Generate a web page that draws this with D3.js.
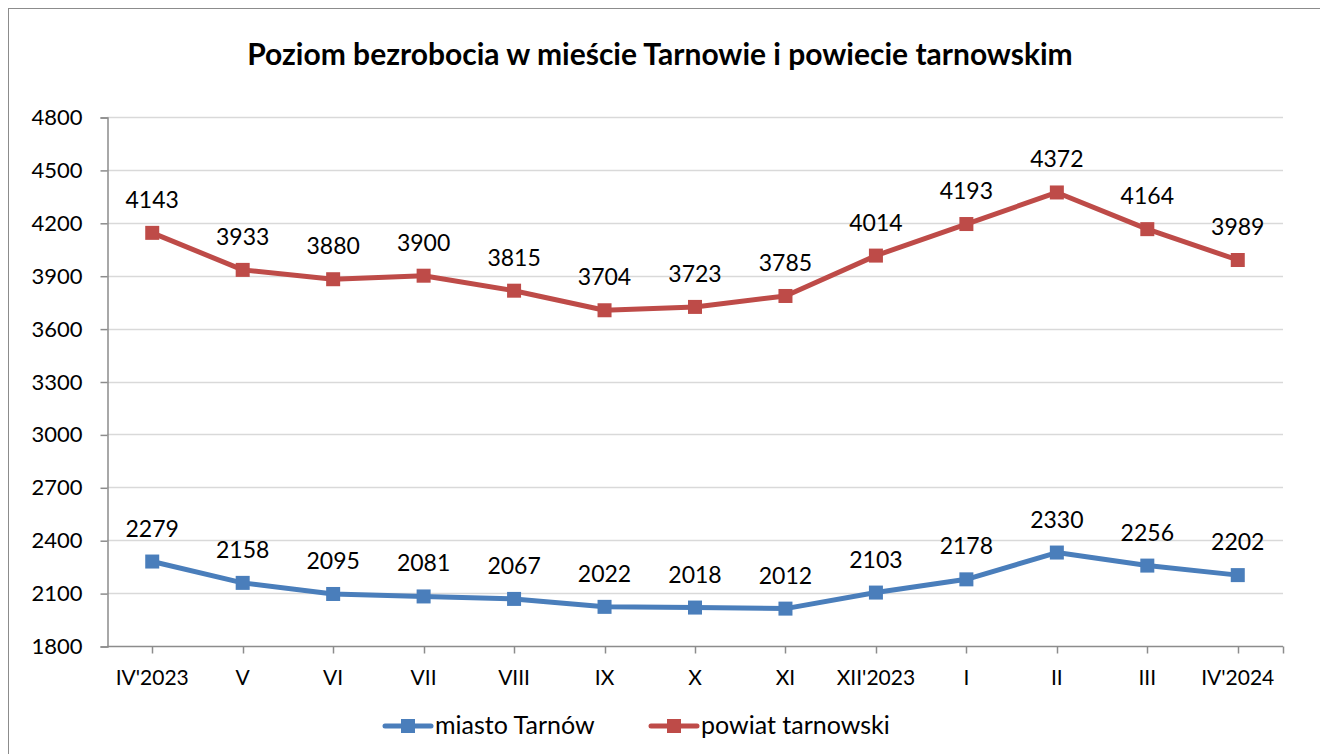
<!DOCTYPE html>
<html>
  <head>
    <meta charset="utf-8">
    <style>
      body { margin: 0; background: #fff; }
      text { font-family: Lato, "Open Sans", sans-serif; fill: #000; }
    </style>
  </head>
  <body>
    <script src="https://d3js.org/d3.v7.min.js"></script>
    <script>
    // data
    var months = ["IV'2023", "V", "VI", "VII", "VIII", "IX", "X", "XI", "XII'2023", "I", "II", "III", "IV'2024"];
    var miasto = [2279, 2158, 2095, 2081, 2067, 2022, 2018, 2012, 2103, 2178, 2330, 2256, 2202];
    var powiat = [4143, 3933, 3880, 3900, 3815, 3704, 3723, 3785, 4014, 4193, 4372, 4164, 3989];
    var yTicks = [1800, 2100, 2400, 2700, 3000, 3300, 3600, 3900, 4200, 4500, 4800];
    var seriesNames = ["miasto Tarnów", "powiat tarnowski"];
    var colors = ["#4a7ebb", "#be4b48"];

    var width = 1320, height = 754;
    var plotLeft = 107, plotRight = 1283, plotTop = 117, plotBottom = 646;

    var svg = d3.select("body").append("svg")
        .attr("width", width)
        .attr("height", height);

    // outer border
    svg.append("rect")
        .attr("x", 8.5).attr("y", 8.5)
        .attr("width", 1320).attr("height", 760)
        .attr("fill", "#fff")
        .attr("stroke", "#8c8c8c");

    svg.append("text")
        .attr("x", 660).attr("y", 65)
        .attr("text-anchor", "middle")
        .style("font-size", "30px")
        .style("font-weight", "bold")
        .text("Poziom bezrobocia w mieście Tarnowie i powiecie tarnowskim");

    var x = d3.scaleBand().domain(months).range([plotLeft, plotRight]);
    var y = d3.scaleLinear().domain([1800, 4800]).range([plotBottom, plotTop]);
    var cx = function(d) { return x(d) + x.bandwidth() / 2; };

    // gridlines
    svg.append("g").selectAll("line")
        .data(yTicks.slice(1))
        .enter().append("line")
        .attr("x1", plotLeft).attr("x2", plotRight)
        .attr("y1", function(d) { return Math.round(y(d)) + 0.5; })
        .attr("y2", function(d) { return Math.round(y(d)) + 0.5; })
        .attr("stroke", "#d9d9d9")
        .attr("stroke-width", 1.5);

    // y axis
    var yAxis = svg.append("g")
        .attr("transform", "translate(" + (plotLeft + 0.5) + ",0.5)")
        .call(d3.axisLeft(y).tickValues(yTicks).tickSize(7).tickPadding(18).tickFormat(d3.format("d")));
    yAxis.select(".domain").attr("stroke", "#8c8c8c").attr("stroke-width", 1.5);
    yAxis.selectAll(".tick line").attr("stroke", "#8c8c8c").attr("stroke-width", 1.5);
    yAxis.selectAll("text").style("font-size", "22px").attr("fill", "#000");

    // x axis: ticks at category centres plus the right end
    var xAxis = svg.append("g")
        .attr("transform", "translate(0," + (plotBottom + 0.5) + ")");
    xAxis.append("line")
        .attr("x1", plotLeft).attr("x2", plotRight)
        .attr("stroke", "#8c8c8c").attr("stroke-width", 1.5);
    xAxis.selectAll(".tk")
        .data(months.map(cx).concat([plotRight]))
        .enter().append("line")
        .attr("x1", function(d) { return Math.round(d) + 0.5; })
        .attr("x2", function(d) { return Math.round(d) + 0.5; })
        .attr("y1", 0).attr("y2", 7)
        .attr("stroke", "#8c8c8c").attr("stroke-width", 1.5);
    xAxis.selectAll(".lbl")
        .data(months)
        .enter().append("text")
        .attr("x", cx).attr("y", 38)
        .attr("text-anchor", "middle")
        .style("font-size", "21px")
        .text(function(d) { return d; });

    var line = d3.line()
        .x(function(d, i) { return cx(months[i]); })
        .y(function(d) { return y(d); });

    [miasto, powiat].forEach(function(vals, s) {
      var g = svg.append("g");
      g.append("path")
          .datum(vals)
          .attr("d", line)
          .attr("fill", "none")
          .attr("stroke", colors[s])
          .attr("stroke-width", 5)
          .attr("stroke-linejoin", "round");
      g.selectAll("rect")
          .data(vals)
          .enter().append("rect")
          .attr("x", function(d, i) { return cx(months[i]) - 7; })
          .attr("y", function(d) { return y(d) - 7; })
          .attr("width", 14).attr("height", 14)
          .attr("fill", colors[s]);
      g.selectAll("text")
          .data(vals)
          .enter().append("text")
          .attr("x", function(d, i) { return cx(months[i]); })
          .attr("y", function(d) { return y(d) - 25; })
          .attr("text-anchor", "middle")
          .style("font-size", "23px")
          .text(function(d) { return d; });
    });

    // legend
    var legendX = [385, 651];
    seriesNames.forEach(function(name, s) {
      var lg = svg.append("g").attr("transform", "translate(" + legendX[s] + ",726)");
      lg.append("line")
          .attr("x1", 0).attr("x2", 46)
          .attr("stroke", colors[s]).attr("stroke-width", 5)
          .attr("stroke-linecap", "round");
      lg.append("rect")
          .attr("x", 16).attr("y", -7)
          .attr("width", 14).attr("height", 14)
          .attr("fill", colors[s]);
      lg.append("text")
          .attr("x", 50).attr("y", 8)
          .style("font-size", "25px")
          .text(name);
    });
    </script>
  </body>
</html>
